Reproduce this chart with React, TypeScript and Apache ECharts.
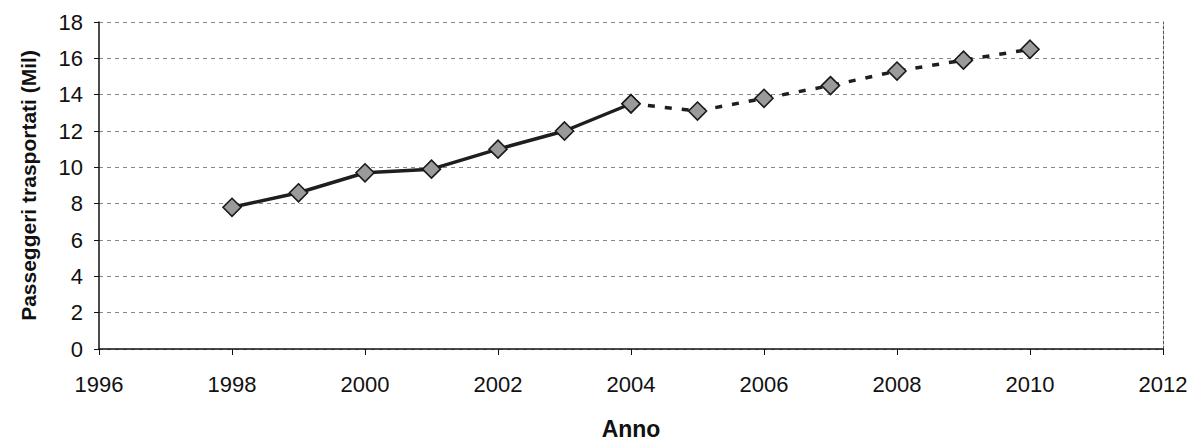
import React, { useEffect, useRef } from "react";
import * as echarts from "echarts";

const yearsActual = [1998, 1999, 2000, 2001, 2002, 2003, 2004];
const valuesActual = [7.8, 8.6, 9.7, 9.9, 11.0, 12.0, 13.5];
const yearsForecast = [2004, 2005, 2006, 2007, 2008, 2009, 2010];
const valuesForecast = [13.5, 13.1, 13.8, 14.5, 15.3, 15.9, 16.5];
const xAxisTitle = "Anno";
const yAxisTitle = "Passeggeri trasportati (Mil)";

export default function App() {
  const ref = useRef<HTMLDivElement>(null);
  useEffect(() => {
    if (!ref.current) return;
    const chart = echarts.init(ref.current, undefined, { renderer: "svg" });
    const font = "Liberation Sans, Arial, sans-serif";
    const marker = {
      symbol: "diamond",
      symbolSize: 18,
      itemStyle: { color: "#9a9a9a", borderColor: "#1a1a1a", borderWidth: 1.6 },
    };
    chart.setOption({
      animation: false,
      backgroundColor: "#ffffff",
      textStyle: { fontFamily: font },
      grid: { left: 99, right: 37, top: 22, bottom: 93 },
      xAxis: {
        type: "value",
        min: 1996,
        max: 2012,
        interval: 2,
        name: xAxisTitle,
        nameLocation: "middle",
        nameGap: 68,
        nameTextStyle: { fontSize: 23, fontWeight: "bold", color: "#111", fontFamily: font },
        axisLine: { show: true, lineStyle: { color: "#111", width: 1.5 } },
        axisTick: { show: true, length: 6, lineStyle: { color: "#111" } },
        axisLabel: {
          fontSize: 22,
          color: "#111",
          margin: 24,
          fontFamily: font,
          formatter: (v: number) => String(v),
        },
        splitLine: { show: false },
      },
      yAxis: [
        {
          type: "value",
          min: 0,
          max: 18,
          interval: 2,
          name: yAxisTitle,
          nameLocation: "middle",
          nameGap: 60,
          nameTextStyle: { fontSize: 21, fontWeight: "bold", color: "#111", fontFamily: font },
          axisLine: { show: true, lineStyle: { color: "#111", width: 1.5 } },
          axisTick: { show: true, length: 5, lineStyle: { color: "#111" } },
          axisLabel: { fontSize: 22, color: "#111", margin: 16, fontFamily: font },
          splitLine: { show: true, lineStyle: { color: "#8a8a8a", type: [4, 4], width: 1 } },
        },
        {
          type: "value",
          position: "right",
          min: 0,
          max: 18,
          interval: 2,
          axisLine: { show: true, lineStyle: { color: "#555", type: [3, 2], width: 1 } },
          axisTick: { show: false },
          axisLabel: { show: false },
          splitLine: { show: false },
        },
      ],
      series: [
        {
          type: "line",
          data: yearsActual.map((y, i) => [y, valuesActual[i]]),
          lineStyle: { color: "#1e1e1e", width: 3.5 },
          ...marker,
          z: 3,
        },
        {
          type: "line",
          data: yearsForecast.map((y, i) => [y, valuesForecast[i]]),
          lineStyle: { color: "#1e1e1e", width: 3.5, type: [7, 10] },
          ...marker,
          z: 3,
        },
      ],
    });
    return () => chart.dispose();
  }, []);
  return <div ref={ref} style={{ width: 1200, height: 445, position: "absolute", left: 0, top: 0 }} />;
}
